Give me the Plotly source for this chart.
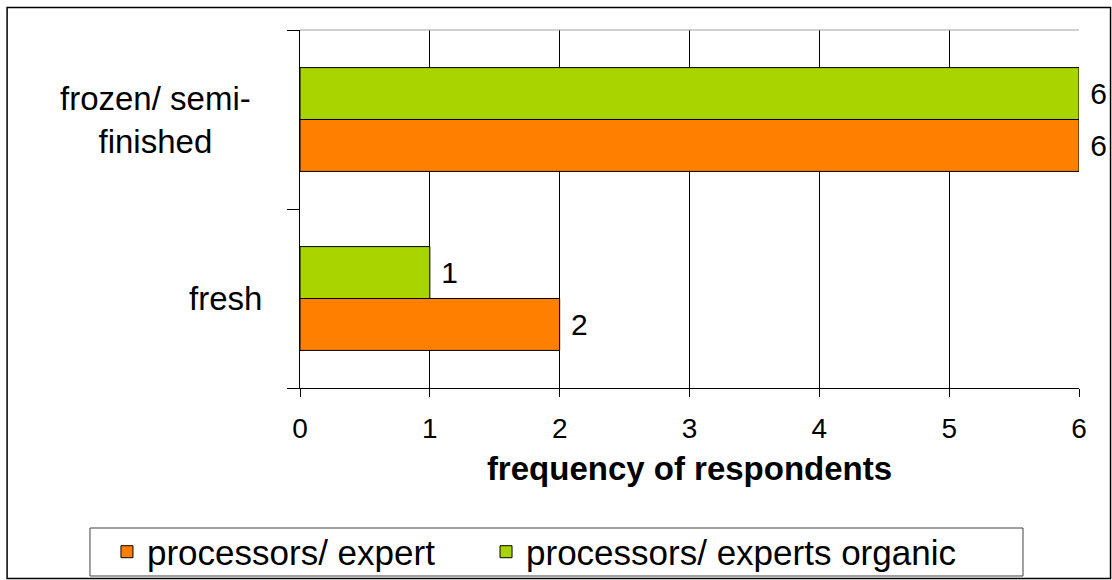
import plotly.graph_objects as go

categories = ["fresh", "frozen/ semi-<br>finished"]
series_names = ["processors/ expert", "processors/ experts organic"]
expert_values = [2, 6]
organic_values = [1, 6]
x_ticks = [0, 1, 2, 3, 4, 5, 6]

colors = ["#FF8000", "#A8D400"]
legend_ids = ["legend", "legend2"]
FONT = "Liberation Sans, Arial, sans-serif"

fig = go.Figure()
for name, vals, col, lg in zip(series_names, [expert_values, organic_values], colors, legend_ids):
    fig.add_trace(go.Bar(
        y=categories, x=vals, name=name, orientation="h",
        marker=dict(color=col, line=dict(color="#000000", width=1)),
        texttemplate="\u00a0%{x}", textposition="outside",
        textfont=dict(family=FONT, size=30, color="#000000"),
        cliponaxis=False, legend=lg,
    ))

legend_style = dict(
    orientation="h", xanchor="left", y=-0.458, yanchor="middle",
    bgcolor="rgba(0,0,0,0)", borderwidth=0,
    font=dict(family=FONT, size=35, color="#000000"), itemwidth=30,
)

fig.update_layout(
    width=1112, height=580,
    margin=dict(l=300, r=33, t=30, b=192, autoexpand=False),
    paper_bgcolor="white", plot_bgcolor="white",
    barmode="group", bargap=0.42, bargroupgap=0,
    font=dict(family=FONT, color="#000000"),
    legend=dict(x=-0.2478, **legend_style),
    legend2=dict(x=0.2388, **legend_style),
    showlegend=True,
)

fig.update_xaxes(
    range=[0, 6], tickvals=x_ticks, ticktext=[str(t) for t in x_ticks],
    showgrid=True, gridcolor="#000000", gridwidth=1,
    showline=True, linecolor="#000000", linewidth=1,
    ticks="outside", ticklen=8, tickcolor="#000000",
    tickfont=dict(family=FONT, size=28, color="#000000"),
    ticklabelstandoff=7, automargin=False,
    zeroline=False,
    title=dict(text="<b>frequency of respondents</b>",
               font=dict(family=FONT, size=33, color="#000000"), standoff=14),
)
fig.update_yaxes(
    showgrid=False, showline=True, linecolor="#000000", linewidth=1,
    ticks="outside", ticklen=12, tickcolor="#000000", tickson="boundaries",
    showticklabels=False, automargin=False,
)

label_x = [-0.095, -0.186]
for cat, lx in zip(categories, label_x):
    fig.add_annotation(
        x=lx, xref="paper", y=cat, yref="y", text=cat, showarrow=False,
        align="center", xanchor="center", yanchor="middle",
        font=dict(family=FONT, size=33, color="#000000"),
    )

# light top edge of the plot area
fig.add_shape(type="line", xref="paper", yref="paper", x0=0, x1=1, y0=1, y1=1,
              line=dict(color="#A0A0A0", width=1))

# legend frame
fig.add_shape(type="rect", xref="paper", yref="paper",
              x0=-0.2696, x1=0.9281, y0=-0.5251, y1=-0.3911,
              line=dict(color="#404040", width=1), fillcolor="rgba(0,0,0,0)")

# outer chart border
fig.add_shape(type="rect", xref="paper", yref="paper",
              x0=-0.376, x1=1.0405, y0=-0.532, y1=1.0628,
              line=dict(color="#000000", width=1.5), fillcolor="rgba(0,0,0,0)")

fig.write_html(
    "out.html",
    config={"displayModeBar": False},
    post_script="document.body.style.margin='0';document.body.style.overflow='hidden';",
)
